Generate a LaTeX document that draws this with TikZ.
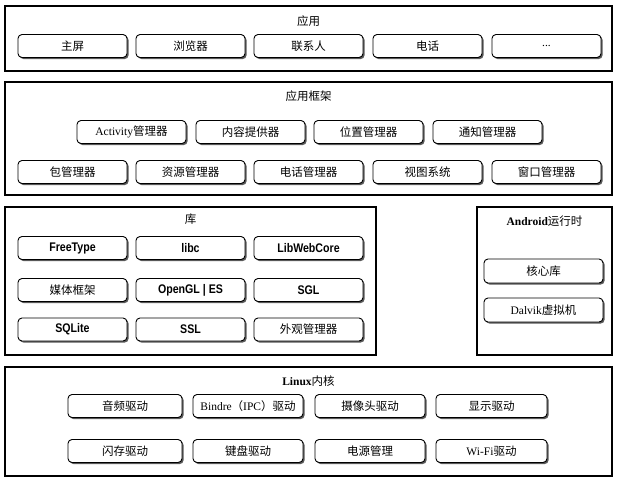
\documentclass[tikz,border=0pt]{standalone}
\usepackage{fontspec}
\setmainfont{Liberation Serif}
\newfontfamily\cjk{Noto Sans CJK SC}
\newfontfamily\bsans{Liberation Sans}[FakeStretch=0.85]
\newcommand{\zh}[1]{{\cjk #1}}
\usetikzlibrary{shadows}
\begin{document}
\begin{tikzpicture}[x=1pt,y=-1pt,
  item/.style={draw, rounded corners=4pt, fill=white, line width=0.9pt,
    minimum width=109pt, minimum height=23pt, inner sep=0pt,
    font=\fontsize{11.5}{13}\selectfont,
    drop shadow={shadow xshift=1.6pt, shadow yshift=-1.6pt, fill=black!65, opacity=1}},
  layer/.style={draw, line width=1.2pt, fill=white, inner sep=0pt,
    drop shadow={shadow xshift=1pt, shadow yshift=-1pt, fill=black!60, opacity=1}},
  title/.style={font=\fontsize{11.5}{13}\selectfont, inner sep=0pt},
  lib/.style={item, font=\bsans\bfseries\fontsize{12.5}{14}\selectfont}]
\useasboundingbox (0,0) rectangle (619,482);
\fill[white] (0,0) rectangle (619,482);

% layers
\node[layer, minimum width=607pt, minimum height=65pt] (Lapp) at (308.5,38.5) {};
\node[layer, minimum width=607pt, minimum height=113pt] (Lfw) at (308.5,138.5) {};
\node[layer, minimum width=371pt, minimum height=148pt] (Llib) at (190.5,281) {};
\node[layer, minimum width=135pt, minimum height=148pt] (Lrt) at (544.5,281) {};
\node[layer, minimum width=607pt, minimum height=109pt] (Lkr) at (308.5,421.5) {};

% titles
\node[title] (tapp) at (308.5,21) {\zh{应用}};
\node[title] (tfw) at (308.5,96) {\zh{应用框架}};
\node[title] (tlib) at (190.5,219) {\zh{库}};
\node[title] (trt) at (544.5,221) {\textbf{Android}\zh{运行时}};
\node[title] (tkr) at (308.5,381) {\textbf{Linux}\zh{内核}};

% applications
\node[item] (a1) at (72.5,46) {\zh{主屏}};
\node[item] (a2) at (190.5,46) {\zh{浏览器}};
\node[item] (a3) at (308.5,46) {\zh{联系人}};
\node[item] (a4) at (427.5,46) {\zh{电话}};
\node[item] (a5) at (546.5,46) {...};

% framework
\node[item] (f1) at (131.5,132) {Activity\zh{管理器}};
\node[item] (f2) at (250.5,132) {\zh{内容提供器}};
\node[item] (f3) at (368.5,132) {\zh{位置管理器}};
\node[item] (f4) at (487.5,132) {\zh{通知管理器}};
\node[item] (f5) at (72.5,172) {\zh{包管理器}};
\node[item] (f6) at (190.5,172) {\zh{资源管理器}};
\node[item] (f7) at (308.5,172) {\zh{电话管理器}};
\node[item] (f8) at (427.5,172) {\zh{视图系统}};
\node[item] (f9) at (546.5,172) {\zh{窗口管理器}};

% libraries
\node[lib] (l1) at (72.5,248) {FreeType};
\node[lib] (l2) at (190.5,248) {libc};
\node[lib] (l3) at (308.5,248) {LibWebCore};
\node[item] (l4) at (72.5,290) {\zh{媒体框架}};
\node[lib] (l5) at (190.5,290) {OpenGL | ES};
\node[lib] (l6) at (308.5,290) {SGL};
\node[lib] (l7) at (72.5,329.5) {SQLite};
\node[lib] (l8) at (190.5,329.5) {SSL};
\node[item] (l9) at (308.5,329.5) {\zh{外观管理器}};

% runtime
\node[item, minimum width=119pt, minimum height=24pt] (r1) at (543.5,271) {\zh{核心库}};
\node[item, minimum width=119pt, minimum height=24pt] (r2) at (543.5,310) {Dalvik\zh{虚拟机}};

% kernel
\node[item, minimum width=114pt] (k1) at (125,406) {\zh{音频驱动}};
\node[item, minimum width=110pt] (k2) at (248,406) {Bindre\zh{（}IPC\zh{）驱动}};
\node[item, minimum width=110pt] (k3) at (370,406) {\zh{摄像头驱动}};
\node[item, minimum width=111pt] (k4) at (491.5,406) {\zh{显示驱动}};
\node[item, minimum width=114pt] (k5) at (125,451) {\zh{闪存驱动}};
\node[item, minimum width=110pt] (k6) at (248,451) {\zh{键盘驱动}};
\node[item, minimum width=110pt] (k7) at (370,451) {\zh{电源管理}};
\node[item, minimum width=111pt] (k8) at (491.5,451) {Wi-Fi\zh{驱动}};
\end{tikzpicture}
\end{document}
